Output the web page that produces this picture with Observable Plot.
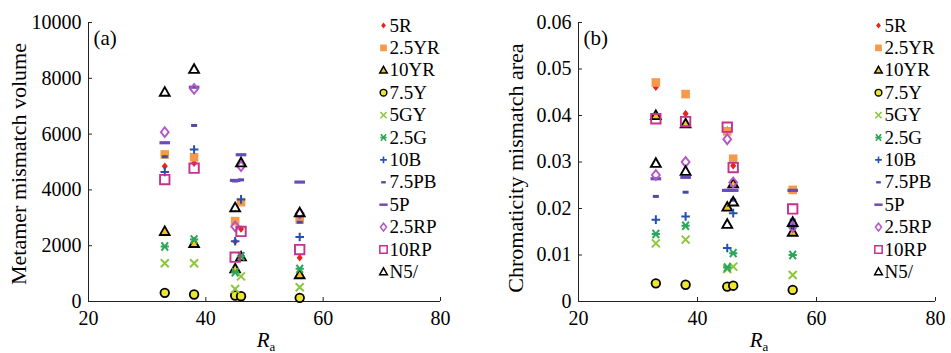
<!DOCTYPE html>
<html><head><meta charset="utf-8">
<script src="https://cdn.jsdelivr.net/npm/d3@7"></script>
<script src="https://cdn.jsdelivr.net/npm/@observablehq/plot@0.6"></script>
<style>
body{margin:0;background:#fff;}
#wrap{display:flex;width:951px;height:353px;overflow:hidden;}
#wrap svg{font-family:"Liberation Serif","Times New Roman",serif;color:#000;background:#fff;overflow:visible;}
</style></head><body><div id="wrap"></div>
<script>
// ---------- data ----------
const ra = [33, 38, 45, 46, 56];
const seriesNames = ["5R","2.5YR","10YR","7.5Y","5GY","2.5G","10B","7.5PB","5P","2.5RP","10RP","N5/"];
// Metamer mismatch volume, one array per light source (order = seriesNames)
const volRa33 = [4850, 5270, 2510, 310, 1370, 1970, 4640, 5190, 5690, 6070, 4370, 7500];
const volRa38 = [4960, 5170, 2080, 250, 1370, 2220, 5450, 6310, 7680, 7620, 4780, 8320];
const volRa45 = [2150, 2880, 1170, 215, 450, 1050, 2160, 4320, 4340, 2690, 1590, 3360];
const volRa46 = [2600, 3560, 1600, 190, 900, 1620, 3660, 4360, 5260, 4850, 2510, 4970];
const volRa56 = [1570, 2940, 960, 130, 510, 1170, 2310, 2840, 4280, 3150, 1860, 3180];
// Chromaticity mismatch area
const areaRa33 = [0.0461, 0.0471, 0.0400, 0.0039, 0.0125, 0.0145, 0.0176, 0.0226, 0.0264, 0.0272, 0.0393, 0.0297];
const areaRa38 = [0.0404, 0.0446, 0.0382, 0.0036, 0.0133, 0.0163, 0.0183, 0.0235, 0.0267, 0.0300, 0.0387, 0.0280];
const areaRa45 = [0.0369, 0.0366, 0.0203, 0.0032, 0.0070, 0.0073, 0.0115, 0.0239, 0.0239, 0.0349, 0.0375, 0.0166];
const areaRa46 = [0.0292, 0.0307, 0.0253, 0.0034, 0.0075, 0.0104, 0.0190, 0.0218, 0.0239, 0.0256, 0.0288, 0.0214];
const areaRa56 = [0.0158, 0.0240, 0.0149, 0.0025, 0.0057, 0.0100, 0.0165, 0.0175, 0.0239, 0.0160, 0.0199, 0.0170];
const xTicks = [20, 40, 60, 80];
const volTicks = [0, 2000, 4000, 6000, 8000, 10000];
const areaTicks = [0, 0.01, 0.02, 0.03, 0.04, 0.05, 0.06];

function tidy(cols){
  const out = [];
  cols.forEach((col, j) => col.forEach((v, i) => out.push({ra: ra[j], series: seriesNames[i], value: v})));
  return out;
}
const volData = tidy([volRa33, volRa38, volRa45, volRa46, volRa56]);
const areaData = tidy([areaRa33, areaRa38, areaRa45, areaRa46, areaRa56]);

// ---------- marker shapes ----------
function sym(fn){ return {draw(c, size){ fn(c, Math.sqrt(size / Math.PI)); }}; }
const shapes = {
  diamond: sym((c,r)=>{c.moveTo(0,-r);c.lineTo(r*0.8,0);c.lineTo(0,r);c.lineTo(-r*0.8,0);c.closePath();}),
  square: sym((c,r)=>{c.rect(-r,-r,2*r,2*r);}),
  triangle: sym((c,r)=>{c.moveTo(0,-r*1.05);c.lineTo(r,r*0.72);c.lineTo(-r,r*0.72);c.closePath();}),
  circle: sym((c,r)=>{c.moveTo(r,0);c.arc(0,0,r,0,2*Math.PI);}),
  x: sym((c,r)=>{c.moveTo(-r,-r);c.lineTo(r,r);c.moveTo(r,-r);c.lineTo(-r,r);}),
  plus: sym((c,r)=>{c.moveTo(-r,0);c.lineTo(r,0);c.moveTo(0,-r);c.lineTo(0,r);}),
  aster: sym((c,r)=>{c.moveTo(-r*0.8,-r);c.lineTo(r*0.8,r);c.moveTo(r*0.8,-r);c.lineTo(-r*0.8,r);c.moveTo(-r,0);c.lineTo(r,0);}),
  dashS: sym((c,r)=>{c.rect(-r,-r*0.5,2*r,r*1.0);}),
  dashL: sym((c,r)=>{c.rect(-r,-r*0.3,2*r,r*0.6);})
};
const styles = {
  "5R":    {symbol: shapes.diamond, fill: "#e8231e", stroke: "none", sw: 0, r: 3.8},
  "2.5YR": {symbol: shapes.square, fill: "#f59a4c", stroke: "none", sw: 0, r: 4.3},
  "10YR":  {symbol: shapes.triangle, fill: "#f2c51f", stroke: "#000", sw: 1.8, r: 4.9},
  "7.5Y":  {symbol: shapes.circle, fill: "#eee62e", stroke: "#000", sw: 1.8, r: 4.3},
  "5GY":   {symbol: shapes.x, fill: "none", stroke: "#8cc63f", sw: 2, r: 4.0},
  "2.5G":  {symbol: shapes.aster, fill: "none", stroke: "#2ca65a", sw: 2, r: 4.1},
  "10B":   {symbol: shapes.plus, fill: "none", stroke: "#2451b0", sw: 2, r: 4.3},
  "7.5PB": {symbol: shapes.dashS, fill: "#4a4aa8", stroke: "none", sw: 0, r: 3.0},
  "5P":    {symbol: shapes.dashL, fill: "#6a4cb6", stroke: "none", sw: 0, r: 5.3},
  "2.5RP": {symbol: shapes.diamond, fill: "none", stroke: "#b456c8", sw: 1.9, r: 4.9},
  "10RP":  {symbol: shapes.square, fill: "none", stroke: "#c4318f", sw: 1.9, r: 4.7},
  "N5/":   {symbol: shapes.triangle, fill: "none", stroke: "#000", sw: 1.9, r: 4.9}
};

function panel({data, yDomain, yTicks, yFmt, width, marginLeft, marginRight, tag}){
  const marks = [
    Plot.ruleX([20], {stroke: "#222", strokeWidth: 1}),
    Plot.ruleY([yDomain[0]], {stroke: "#222", strokeWidth: 1}),
    Plot.axisY(yTicks, {tickSize: 0, tickPadding: 7, fontSize: 20, tickFormat: yFmt, label: null}),
    Plot.axisY(yTicks, {tickSize: 4, dx: 4, tickFormat: () => "", label: null, stroke: "#222"}),
    Plot.axisX(xTicks, {tickSize: 0, tickPadding: 9, fontSize: 20, tickFormat: d => String(d), label: null}),
    Plot.axisX(xTicks, {tickSize: 4, dy: -4, tickFormat: () => "", label: null, stroke: "#222"})
  ];
  seriesNames.forEach((s, i) => {
    const st = styles[s];
    marks.push(Plot.dot(data.filter(d => d.series === s), {
      x: "ra", y: "value", symbol: st.symbol, r: st.r,
      fill: st.fill, stroke: st.stroke, strokeWidth: st.sw
    }));
  });
  seriesNames.forEach((s, i) => {
    const st = styles[s];
    marks.push(Plot.dot([s], {frameAnchor: "top-right", dx: -57, dy: 3 + 22.4 * i,
      symbol: st.symbol, r: st.r * 0.78, fill: st.fill, stroke: st.stroke, strokeWidth: st.sw * 0.8}));
    marks.push(Plot.text([s], {frameAnchor: "top-right", dx: -51, dy: 3 + 22.4 * i, text: d => d,
      textAnchor: "start", lineAnchor: "middle", fontSize: 19, fill: "#000"}));
  });
  marks.push(Plot.text([tag], {frameAnchor: "top-left", dx: 5, dy: 16, text: d => d,
    textAnchor: "start", lineAnchor: "middle", fontSize: 21, fill: "#000"}));
  return Plot.plot({
    width, height: 353, marginLeft, marginRight, marginTop: 22, marginBottom: 52,
    x: {domain: [20, 80]},
    y: {domain: yDomain},
    marks
  });
}

function addLabels(svg, yLabel, yLabelX, cy, cx){
  const s = d3.select(svg);
  s.append("text").attr("transform", `translate(${yLabelX},${cy}) rotate(-90)`)
    .attr("text-anchor", "middle").attr("font-size", 22).attr("fill", "#000").text(yLabel);
  const t = s.append("text").attr("x", cx).attr("y", 347).attr("text-anchor", "middle")
    .attr("font-size", 21).attr("fill", "#000");
  t.append("tspan").attr("font-style", "italic").text("R");
  t.append("tspan").attr("font-size", 13).attr("dy", 4).text("a");
}

const wrap = document.getElementById("wrap");
const left = panel({data: volData, yDomain: [0, 10000], yTicks: volTicks, yFmt: d3.format("d"),
  width: 475, marginLeft: 88, marginRight: 35, tag: "(a)"});
addLabels(left, "Metamer mismatch volume", 26, 164, 266);
const right = panel({data: areaData, yDomain: [0, 0.06], yTicks: areaTicks,
  yFmt: d => d === 0 ? "0" : d.toFixed(2), width: 476, marginLeft: 103, marginRight: 16, tag: "(b)"});
addLabels(right, "Chromaticity mismatch area", 48, 168, 284);
wrap.append(left, right);
</script></body></html>
